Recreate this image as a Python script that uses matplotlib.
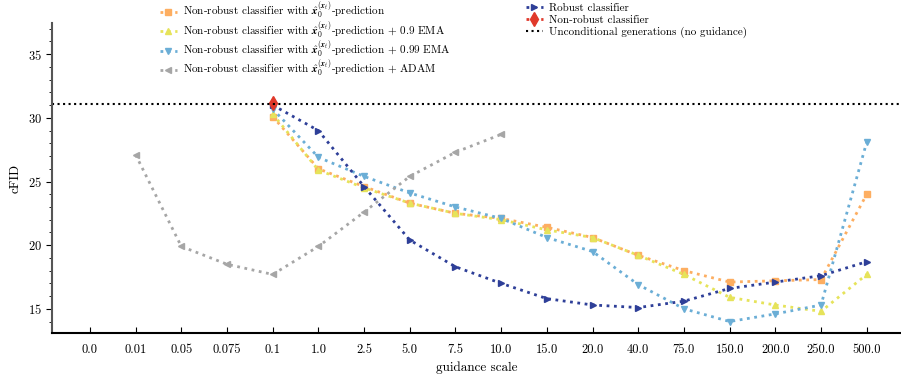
import matplotlib
matplotlib.use("Agg")
import matplotlib.pyplot as plt
from matplotlib.ticker import MultipleLocator
import numpy as np

plt.rcParams['font.family'] = ['cmr10', 'DejaVu Serif']
plt.rcParams['mathtext.fontset'] = 'cm'
plt.rcParams['axes.formatter.use_mathtext'] = True

scales = ["0.0", "0.01", "0.05", "0.075", "0.1", "1.0", "2.5", "5.0", "7.5", "10.0",
          "15.0", "20.0", "40.0", "75.0", "150.0", "200.0", "250.0", "500.0"]

# indices into scales
x_pred_idx = list(range(4, 18))
x_pred = [30.1, 26.0, 24.6, 23.3, 22.5, 22.1, 21.4, 20.6, 19.2, 18.0, 17.1, 17.2, 17.3, 24.0]
ema09 = [30.3, 25.9, 24.5, 23.3, 22.5, 22.0, 21.2, 20.6, 19.2, 17.7, 15.9, 15.3, 14.8, 17.7]
ema099 = [30.7, 26.9, 25.4, 24.1, 23.0, 22.1, 20.6, 19.5, 16.9, 15.0, 14.0, 14.6, 15.3, 28.1]
adam_idx = list(range(1, 10))
adam = [27.1, 19.9, 18.5, 17.7, 19.9, 22.6, 25.4, 27.3, 28.7]
robust_idx = list(range(4, 18))
robust = [31.0, 29.0, 24.6, 20.4, 18.3, 17.0, 15.8, 15.3, 15.1, 15.6, 16.6, 17.1, 17.6, 18.7]
nonrobust_idx = [4]
nonrobust = [31.2]
uncond = 31.1

c_orange = '#fdae61'
c_yellow = '#e6e35a'
c_lblue = '#6baed6'
c_gray = '#a6a6a6'
c_dblue = '#2e3f98'
c_red = '#e0392b'

fig = plt.figure(figsize=(9.01, 3.74), dpi=100)
ax = fig.add_axes([52/901, 41/374, 849/901, 310/374])

lab = r'Non-robust classifier with $\hat{\boldsymbol{x}}_0^{(\boldsymbol{x}_t)}$-prediction'
kw = dict(linestyle=':', linewidth=2.0, markersize=4.5)
h1, = ax.plot(x_pred_idx, x_pred, marker='s', color=c_orange, label=lab, **kw)
h2, = ax.plot(x_pred_idx, ema09, marker='^', color=c_yellow, label=lab + ' + 0.9 EMA', **kw)
h3, = ax.plot(x_pred_idx, ema099, marker='v', color=c_lblue, label=lab + ' + 0.99 EMA', **kw)
h4, = ax.plot(adam_idx, adam, marker='<', color=c_gray, label=lab + ' + ADAM', **kw)
h5, = ax.plot(robust_idx, robust, marker='>', color=c_dblue, label='Robust classifier', **kw)
h6, = ax.plot(nonrobust_idx, nonrobust, marker='d', color=c_red, markersize=7,
              linestyle=':', linewidth=2.0, label='Non-robust classifier')
h7 = ax.axhline(uncond, color='black', linestyle=':', linewidth=1.5,
                label='Unconditional generations (no guidance)')

ax.set_xticks(range(len(scales)))
ax.set_xticklabels(scales)
ax.set_xlim(-0.83, 17.75)
ax.set_ylim(13.1, 37.45)
ax.yaxis.set_major_locator(MultipleLocator(5))
ax.yaxis.set_minor_locator(MultipleLocator(1))
ax.tick_params(axis='x', direction='in', length=4, labelsize=9, pad=8)
ax.tick_params(axis='y', which='major', direction='out', length=4, labelsize=9)
ax.tick_params(axis='y', which='minor', direction='out', length=2)
ax.spines['top'].set_visible(False)
ax.spines['right'].set_visible(False)
ax.spines['left'].set_color('#555555')
ax.spines['left'].set_linewidth(1.5)
ax.spines['bottom'].set_linewidth(1.5)
ax.set_xlabel('guidance scale', fontsize=9.5)
ax.set_ylabel('cFID', fontsize=9.5)

leg1 = fig.legend(handles=[h1, h2, h3, h4], ncol=1, frameon=False,
                  loc='upper left', bbox_to_anchor=(160/901, 1.0), fontsize=8,
                  handlelength=1.5, handletextpad=0.6,
                  labelspacing=-0.2, borderaxespad=0.0, borderpad=0.0)
leg2 = fig.legend(handles=[h5, h6, h7], ncol=1, frameon=False,
                  loc='upper left', bbox_to_anchor=(525/901, 1 - 2/374), fontsize=8,
                  handlelength=1.5, handletextpad=0.6,
                  labelspacing=0.2, borderaxespad=0.0, borderpad=0.1)

fig.savefig('out.png', dpi=100)
